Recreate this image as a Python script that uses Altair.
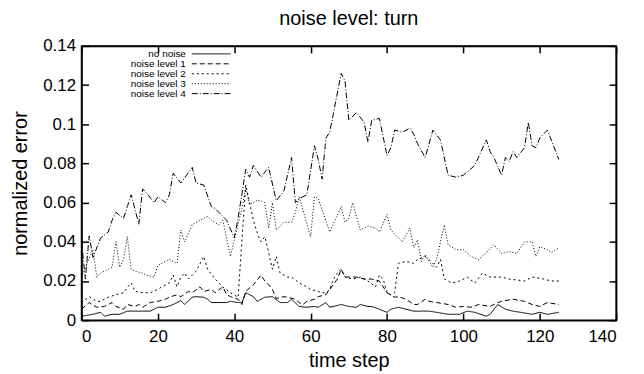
import altair as alt
import pandas as pd

series_names = ["no noise", "noise level 1", "noise level 2", "noise level 3", "noise level 4"]

nn_x = [0, 3, 5, 6, 8, 10, 12, 14, 16, 18, 20, 22, 24, 26, 27, 29, 30, 32, 33, 34,
        36, 38, 39, 41, 42, 43, 45, 46, 48, 50, 52, 54, 55, 57, 59, 61, 62, 64, 65, 66,
        68, 70, 72, 73, 75, 76, 78, 80, 81, 83, 85, 87, 89, 91, 93, 96, 99, 101, 103, 106,
        107, 109, 111, 113, 115, 118, 120, 122, 125]
nn_y = [0.002, 0.003, 0.004, 0.002, 0.003, 0.003, 0.0046, 0.0046, 0.0046, 0.0046,
        0.0066, 0.0066, 0.008, 0.010, 0.008, 0.0117, 0.012, 0.0117, 0.0107, 0.009,
        0.009, 0.009, 0.0096, 0.009, 0.009, 0.014, 0.012, 0.0096, 0.0117, 0.012,
        0.009, 0.009, 0.0107, 0.007, 0.0066, 0.007, 0.0066, 0.009, 0.0066, 0.007,
        0.008, 0.007, 0.0066, 0.008, 0.007, 0.007, 0.0056, 0.004, 0.0056, 0.0066,
        0.0056, 0.0046, 0.0046, 0.0046, 0.004, 0.003, 0.003, 0.0046, 0.004, 0.002,
        0.003, 0.008, 0.0056, 0.0046, 0.004, 0.003, 0.004, 0.003, 0.004]

l1_x = [0, 2, 4, 6, 8, 9, 11, 12, 14, 15, 16, 18, 20, 22, 23, 25, 26, 28, 29, 31,
        32, 34, 35, 37, 38, 39, 41, 42, 43, 45, 47, 48, 49, 50, 51, 53, 54, 56, 57, 58,
        59, 61, 62, 64, 65, 67, 68, 69, 72, 74, 76, 78, 80, 82, 83, 85, 87, 88, 90, 91,
        93, 96, 98, 100, 102, 104, 107, 109, 110, 113, 116, 118, 120, 122, 125]
l1_y = [0.0056, 0.009, 0.0066, 0.007, 0.009, 0.007, 0.0056, 0.008, 0.007, 0.008,
        0.0066, 0.009, 0.0096, 0.0107, 0.0117, 0.013, 0.012, 0.0147, 0.014, 0.017,
        0.0147, 0.0157, 0.014, 0.017, 0.013, 0.012, 0.0107, 0.008, 0.0147, 0.018,
        0.023, 0.020, 0.018, 0.0157, 0.011, 0.012, 0.0117, 0.0107, 0.009, 0.008,
        0.0096, 0.0107, 0.012, 0.013, 0.0157, 0.021, 0.026, 0.022, 0.022, 0.021,
        0.021, 0.020, 0.014, 0.0117, 0.012, 0.0107, 0.008, 0.008, 0.0107, 0.0096,
        0.009, 0.008, 0.0066, 0.007, 0.0066, 0.008, 0.007, 0.009, 0.0096, 0.0107,
        0.0096, 0.008, 0.007, 0.009, 0.008]

l2_x = [0, 2, 4, 5, 7, 9, 11, 12, 13, 14, 16, 18, 20, 21, 23, 24, 25, 26, 27, 28,
        30, 32, 33, 35, 37, 39, 41, 43, 44, 45, 46, 47, 48, 49, 50, 51, 52, 54, 55, 57,
        59, 60, 62, 63, 64, 65, 66, 67, 68, 69, 71, 73, 75, 77, 78, 79, 80, 81, 82, 83,
        85, 87, 88, 90, 91, 93, 94, 95, 97, 99, 101, 103, 105, 107, 110, 112, 116, 118, 121, 123,
        125]
l2_y = [0.009, 0.012, 0.0096, 0.0096, 0.0117, 0.013, 0.014, 0.0167, 0.019, 0.0147,
        0.014, 0.014, 0.0157, 0.017, 0.019, 0.023, 0.017, 0.022, 0.024, 0.021,
        0.025, 0.0325, 0.026, 0.021, 0.017, 0.014, 0.0117, 0.069, 0.060, 0.051,
        0.0446, 0.040, 0.0426, 0.0345, 0.026, 0.0325, 0.024, 0.022, 0.022, 0.019,
        0.017, 0.0157, 0.0147, 0.014, 0.014, 0.0157, 0.021, 0.024, 0.026, 0.022,
        0.021, 0.022, 0.020, 0.017, 0.023, 0.021, 0.014, 0.013, 0.014, 0.029,
        0.030, 0.029, 0.031, 0.0325, 0.031, 0.027, 0.031, 0.021, 0.019, 0.020,
        0.022, 0.019, 0.024, 0.022, 0.022, 0.021, 0.020, 0.022, 0.021, 0.020,
        0.020]

l3_x = [0, 1, 3, 4, 5, 6, 8, 9, 10, 11, 12, 13, 14, 16, 17, 19, 20, 22, 23, 25,
        26, 27, 29, 31, 33, 34, 36, 37, 39, 40, 42, 43, 44, 45, 46, 48, 49, 50, 51, 53,
        55, 56, 57, 60, 61, 62, 65, 68, 69, 70, 71, 73, 75, 77, 78, 80, 81, 84, 86, 87,
        88, 89, 90, 92, 93, 95, 96, 98, 100, 102, 104, 106, 108, 110, 112, 114, 115, 116, 118, 119,
        120, 122, 123, 125]
l3_y = [0.022, 0.027, 0.036, 0.022, 0.024, 0.025, 0.027, 0.040, 0.027, 0.031,
        0.0426, 0.026, 0.025, 0.024, 0.023, 0.022, 0.028, 0.030, 0.031, 0.029,
        0.046, 0.040, 0.0487, 0.051, 0.053, 0.051, 0.0487, 0.051, 0.0325, 0.041,
        0.057, 0.068, 0.059, 0.060, 0.0614, 0.060, 0.047, 0.060, 0.046, 0.050,
        0.050, 0.055, 0.063, 0.0426, 0.063, 0.062, 0.045, 0.058, 0.050, 0.052,
        0.060, 0.046, 0.048, 0.047, 0.045, 0.054, 0.046, 0.040, 0.047, 0.037,
        0.041, 0.030, 0.0335, 0.027, 0.031, 0.0487, 0.0385, 0.036, 0.036, 0.0325,
        0.031, 0.0345, 0.0385, 0.034, 0.035, 0.034, 0.037, 0.040, 0.040, 0.0325,
        0.0375, 0.036, 0.0345, 0.037]

l4_x = [0, 1, 2, 3, 5, 7, 8, 9, 11, 12, 13, 15, 16, 17, 19, 20, 22, 23, 24, 26,
        29, 30, 32, 34, 35, 36, 38, 40, 41, 43, 44, 45, 47, 49, 51, 53, 55, 56, 57, 59,
        61, 62, 63, 64, 65, 68, 69, 70, 72, 74, 75, 76, 78, 80, 81, 82, 84, 86, 87, 88,
        90, 92, 94, 96, 98, 100, 103, 106, 107, 108, 110, 111, 112, 113, 114, 116, 117, 118, 119, 120,
        122, 125]
l4_y = [0.040, 0.021, 0.043, 0.032, 0.042, 0.045, 0.051, 0.055, 0.052, 0.058,
        0.064, 0.049, 0.067, 0.065, 0.060, 0.063, 0.060, 0.064, 0.075, 0.070,
        0.078, 0.070, 0.069, 0.058, 0.057, 0.055, 0.051, 0.042, 0.052, 0.077,
        0.073, 0.079, 0.073, 0.078, 0.061, 0.066, 0.083, 0.060, 0.062, 0.064,
        0.089, 0.082, 0.072, 0.093, 0.096, 0.126, 0.122, 0.102, 0.106, 0.101,
        0.091, 0.102, 0.103, 0.084, 0.088, 0.097, 0.096, 0.098, 0.095, 0.090,
        0.083, 0.097, 0.092, 0.074, 0.073, 0.074, 0.079, 0.092, 0.086, 0.083,
        0.074, 0.083, 0.081, 0.086, 0.083, 0.088, 0.101, 0.089, 0.088, 0.093,
        0.097, 0.082]

x_ticks = [0, 20, 40, 60, 80, 100, 120, 140]
y_ticks = [0, 0.02, 0.04, 0.06, 0.08, 0.1, 0.12, 0.14]

dash_styles = [[1, 0], [5, 3], [2, 3], [1, 2], [6, 2, 1, 2]]
legend_rows = [0, 1, 2, 3, 4]

rows = []
for name, xs, ys in zip(series_names, [nn_x, l1_x, l2_x, l3_x, l4_x],
                        [nn_y, l1_y, l2_y, l3_y, l4_y]):
    for xv, yv in zip(xs, ys):
        rows.append({"series": name, "t": xv, "err": yv})
df = pd.DataFrame(rows)

leg_text = pd.DataFrame({"series": series_names, "row": legend_rows})
leg_line = pd.DataFrame(
    [{"series": s, "row": r, "end": e} for s, r in zip(series_names, legend_rows) for e in (0, 1)]
)

W, H = 538, 276
FONT = "Liberation Sans"
TICK_IN = {"expr": "-7"}

xscale = alt.Scale(domain=[0, 140], nice=False, zero=False)
yscale = alt.Scale(domain=[0, 0.14], nice=False, zero=False)
dash_scale = alt.Scale(domain=series_names, range=dash_styles)
# legend placement inside the plot area (pixels within the plot)
leg_y = alt.Scale(domain=[0, 1], range=[8, 18])
leg_x = alt.Scale(domain=[0, 1], range=[111, 150])

common = dict(domain=True, domainColor="black", domainWidth=1.5, ticks=True,
              tickSize=TICK_IN, tickColor="black", tickWidth=1.5, grid=False)

x_axis = alt.Axis(values=x_ticks, title="time step", labelFontSize=17, titleFontSize=20,
                  labelPadding=15, titlePadding=7, labelFont=FONT, titleFont=FONT,
                  titleFontWeight="normal", labelColor="black", titleColor="black",
                  orient="bottom", **common)
y_axis = alt.Axis(values=y_ticks, format="~g", title="normalized error",
                  labelFontSize=17, titleFontSize=20, labelPadding=13, titlePadding=12,
                  labelFont=FONT, titleFont=FONT, titleFontWeight="normal",
                  labelColor="black", titleColor="black", orient="left", **common)
x_axis_top = alt.Axis(values=x_ticks, title=None, labels=False, orient="top", **common)
y_axis_right = alt.Axis(values=y_ticks, title=None, labels=False, orient="right", **common)

lines = alt.Chart(df).mark_line(strokeWidth=1, color="black").encode(
    x=alt.X("t:Q", scale=xscale, axis=x_axis),
    y=alt.Y("err:Q", scale=yscale, axis=y_axis),
    strokeDash=alt.StrokeDash("series:N", scale=dash_scale, legend=None),
)

# invisible copy carrying the mirrored top/right axes (frame + inward ticks)
mirror = alt.Chart(df).mark_line(opacity=0).encode(
    x=alt.X("t:Q", scale=xscale, axis=x_axis_top),
    y=alt.Y("err:Q", scale=yscale, axis=y_axis_right),
    detail="series:N",
)

legend_lines = alt.Chart(leg_line).mark_line(strokeWidth=1, color="black").encode(
    x=alt.X("end:Q", scale=leg_x, axis=None),
    y=alt.Y("row:Q", scale=leg_y, axis=None),
    strokeDash=alt.StrokeDash("series:N", scale=dash_scale, legend=None),
    detail="series:N",
)

legend_text = alt.Chart(leg_text).mark_text(
    align="right", baseline="middle", fontSize=10, font=FONT, color="black", dx=-6
).encode(
    x=alt.value(111),
    y=alt.Y("row:Q", scale=leg_y, axis=None),
    text="series:N",
)

chart = alt.layer(lines, mirror, legend_lines, legend_text).resolve_scale(
    x="independent", y="independent"
).properties(
    width=W, height=H,
    background="white",
    title=alt.Title("noise level: turn", fontSize=20, font=FONT, fontWeight="normal",
                    color="black", offset=8, anchor="middle", frame="group"),
    autosize=alt.AutoSizeParams(type="none"),
    padding={"left": 74, "top": 37, "right": 20, "bottom": 50},
).configure_view(stroke="black", strokeWidth=1.5)

chart.save("out.html", embed_options={"renderer": "svg", "actions": False})
